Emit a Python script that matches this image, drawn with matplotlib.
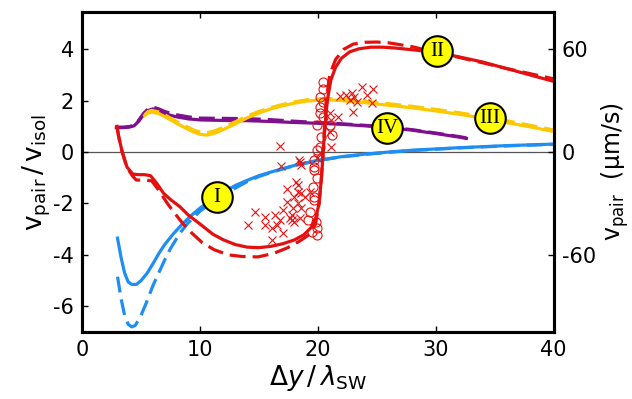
import numpy as np
import matplotlib
matplotlib.use("Agg")
import matplotlib.pyplot as plt

plt.rcParams['font.family'] = ['DejaVu Sans']
plt.rcParams['mathtext.fontset'] = 'dejavusans'
plt.rcParams['axes.unicode_minus'] = False

# scaled pair velocity vs separation, solid = model A, dashed = model B
red_x = [2.95, 3.1, 3.4, 3.8, 4.3, 4.8, 5.3, 5.8, 6.3, 6.9, 7.5, 8.3, 9.0, 10.0, 11.1, 12.0, 13.0, 14.0,
         15.0, 16.0, 17.0, 18.0, 18.8, 19.4, 19.8, 20.1, 20.3, 20.45, 20.6, 20.8, 21.1, 21.5, 22.0, 22.7,
         23.5, 24.5, 25.5, 26.5, 28.0, 30.0, 32.0, 34.0, 36.0, 38.0, 40.0]
red_y = [1.0, 0.6, 0.0, -0.58, -0.86, -0.88, -0.88, -0.92, -1.2, -1.6, -1.85, -2.13, -2.45, -2.8, -3.2,
         -3.42, -3.6, -3.7, -3.72, -3.67, -3.57, -3.42, -3.22, -2.95, -2.6, -2.0, -1.0, 0.0, 1.0, 2.0,
         2.8, 3.3, 3.65, 3.9, 4.02, 4.08, 4.08, 4.05, 3.98, 3.88, 3.7, 3.5, 3.25, 3.0, 2.75]
red_dash_x = [2.95, 3.1, 3.4, 3.8, 4.3, 4.6, 5.3, 5.9, 6.6, 7.2, 7.8, 8.5, 9.3, 10.2, 11.2, 12.4, 13.5,
              14.9, 16.2, 17.4, 18.5, 19.3, 19.8, 20.1, 20.3, 20.5, 20.7, 21.0, 21.5, 22.2, 23.0, 24.0,
              25.0, 26.0, 28.0, 30.0, 32.0, 34.0, 36.0, 38.0, 40.0]
red_dash_y = [1.0, 0.6, 0.0, -0.6, -0.95, -1.09, -1.09, -1.12, -1.55, -1.98, -2.35, -2.76, -3.15, -3.53,
              -3.8, -4.0, -4.06, -4.08, -3.95, -3.73, -3.45, -3.2, -2.8, -2.0, -1.0, 0.5, 2.0, 3.0, 3.6,
              4.0, 4.2, 4.27, 4.28, 4.25, 4.1, 3.87, 3.68, 3.47, 3.25, 3.05, 2.85]

blue_x = [3.0, 3.3, 3.6, 3.9, 4.2, 4.6, 5.0, 5.5, 6.0, 6.5, 7.0, 7.7, 8.5, 9.3, 10.0, 11.0, 12.0, 13.0,
          14.0, 15.0, 16.0, 17.0, 18.0, 19.0, 20.0, 22.0, 24.0, 26.0, 28.0, 30.0, 32.0, 34.0, 36.0, 38.0, 40.0]
blue_y = [-3.35, -4.1, -4.7, -5.05, -5.15, -5.15, -5.0, -4.72, -4.35, -3.95, -3.6, -3.2, -2.8, -2.45,
          -2.18, -1.85, -1.55, -1.3, -1.1, -0.92, -0.78, -0.65, -0.52, -0.42, -0.32, -0.18, -0.08, 0.0,
          0.07, 0.12, 0.17, 0.21, 0.25, 0.28, 0.31]
blue_dash_x = [3.0, 3.3, 3.6, 3.9, 4.2, 4.5, 5.0, 5.5, 6.0, 6.5, 7.0, 7.5, 8.3, 9.0, 10.0, 11.0, 12.0,
               13.0, 14.0, 15.0, 16.0, 17.0, 18.0, 19.0, 20.0, 22.0, 24.0, 26.0, 28.0, 30.0, 32.0, 34.0,
               36.0, 38.0, 40.0]
blue_dash_y = [-4.85, -5.7, -6.35, -6.7, -6.8, -6.75, -6.35, -5.8, -5.2, -4.7, -4.2, -3.75, -3.15, -2.75,
               -2.3, -1.95, -1.65, -1.4, -1.15, -0.95, -0.8, -0.66, -0.53, -0.43, -0.33, -0.19, -0.09,
               -0.01, 0.06, 0.11, 0.16, 0.2, 0.24, 0.27, 0.3]

yellow_x = [5.3, 5.6, 5.9, 6.5, 7.0, 7.5, 8.0, 8.5, 9.0, 9.5, 10.0, 10.5, 11.0, 11.5, 12.0, 13.0, 14.0,
            15.0, 16.0, 17.0, 18.0, 19.0, 20.0, 21.0, 22.0, 24.0, 26.0, 28.0, 30.0, 32.0, 34.0, 36.0, 38.0, 40.0]
yellow_y = [1.42, 1.52, 1.55, 1.5, 1.38, 1.25, 1.12, 1.0, 0.88, 0.77, 0.69, 0.66, 0.7, 0.78, 0.88, 1.1,
            1.33, 1.52, 1.68, 1.8, 1.9, 1.98, 2.02, 2.03, 2.0, 1.92, 1.82, 1.72, 1.6, 1.47, 1.32, 1.15, 0.98, 0.8]
yellow_dash_y = [1.45, 1.58, 1.62, 1.56, 1.45, 1.32, 1.19, 1.07, 0.96, 0.85, 0.78, 0.75, 0.79, 0.87, 0.97,
                 1.18, 1.4, 1.58, 1.73, 1.85, 1.95, 2.03, 2.07, 2.08, 2.05, 1.98, 1.88, 1.78, 1.66, 1.53,
                 1.38, 1.22, 1.04, 0.86]

purple_x = [2.9, 3.5, 4.0, 4.4, 4.8, 5.2, 5.6, 6.0, 6.5, 7.0, 7.5, 8.0, 9.0, 10.0, 12.0, 14.0, 16.0,
            18.0, 20.0, 22.0, 24.0, 26.0, 28.0, 30.0, 32.0, 32.6]
purple_y = [0.95, 0.95, 0.97, 1.02, 1.2, 1.45, 1.62, 1.68, 1.6, 1.5, 1.43, 1.37, 1.29, 1.25, 1.23, 1.22,
            1.19, 1.15, 1.12, 1.08, 1.02, 0.95, 0.85, 0.72, 0.58, 0.53]
purple_dash_y = [0.97, 0.97, 0.99, 1.05, 1.24, 1.5, 1.68, 1.75, 1.68, 1.58, 1.51, 1.45, 1.37, 1.32, 1.31,
                 1.3, 1.26, 1.2, 1.15, 1.1, 1.04, 0.97, 0.87, 0.74, 0.6, 0.55]

# experimental points
cross_x = [16.8, 16.9, 18.4, 18.6, 21.9, 22.4, 22.9, 23.1, 23.7, 24.2, 24.7, 23.3, 24.6, 23.0, 22.7,
           21.0, 21.7, 21.1, 21.0, 21.1, 20.2, 19.9, 18.5, 18.1, 18.3, 17.4, 18.3, 18.6, 18.9, 19.3,
           18.0, 17.4, 18.3, 17.9, 18.6, 17.0, 16.4, 17.8, 17.6, 17.8, 16.8, 14.7, 15.5, 14.1, 15.5,
           16.1, 16.5, 16.1, 17.0, 18.0, 18.5]
cross_y = [0.23, -0.54, -0.31, -0.5, 2.17, 2.21, 2.29, 2.14, 2.52, 2.21, 2.45, 1.94, 1.9, 1.55, 2.02,
           1.51, 1.36, 1.24, 0.78, 0.19, -0.04, -0.23, -0.39, -1.16, -1.28, -1.44, -1.55, -1.6, -1.75,
           -1.55, -1.75, -1.94, -1.98, -2.17, -2.17, -2.25, -2.45, -2.45, -2.56, -2.64, -2.64, -2.33,
           -2.52, -2.84, -2.84, -2.95, -2.84, -3.42, -3.15, -2.72, -2.56]
circle_x = [20.4, 20.4, 20.2, 20.4, 20.2, 20.2, 20.4, 19.9, 21.0, 21.2, 20.3, 20.2, 19.9, 19.7, 19.7,
            19.7, 19.9, 19.6, 19.7, 19.7, 19.3, 19.2, 19.8, 19.9, 19.9, 19.5]
circle_y = [2.72, 2.45, 2.14, 1.94, 1.75, 1.5, 1.36, 1.05, 1.05, 0.66, 0.58, 0.19, 0.08, -0.31, -0.58,
            -0.7, -1.0, -1.36, -1.75, -1.86, -2.33, -2.64, -2.72, -2.95, -3.22, -3.1]

labels = ['I', 'II', 'III', 'IV']
label_x = [11.4, 30.1, 34.6, 25.9]
label_y = [-1.75, 3.92, 1.32, 0.93]

RED, BLUE, YELLOW, PURPLE = '#e41010', '#1f8ef1', '#fcc800', '#7f0f8f'

fig = plt.figure(figsize=(6.32, 3.99), dpi=100)
ax = fig.add_axes([0.130, 0.168, 0.746, 0.802])

ax.axhline(0, color='#555555', lw=0.9, zorder=1)

dash = (0, (5, 2.2))
lw = 2.3
ax.plot(purple_x, purple_dash_y, color=PURPLE, lw=lw, ls=dash, zorder=2)
ax.plot(purple_x, purple_y, color=PURPLE, lw=lw, zorder=2)
ax.plot(yellow_x, yellow_dash_y, color=YELLOW, lw=lw, ls=dash, zorder=3)
ax.plot(yellow_x, yellow_y, color=YELLOW, lw=lw, zorder=3)
ax.plot(blue_dash_x, blue_dash_y, color=BLUE, lw=lw, ls=dash, zorder=3)
ax.plot(blue_x, blue_y, color=BLUE, lw=lw, zorder=3)

ax.plot(cross_x, cross_y, 'x', color=RED, ms=5.5, mew=0.8, zorder=4)
ax.plot(circle_x, circle_y, 'o', mfc='none', mec=RED, ms=6.5, mew=0.8, zorder=4)

ax.plot(red_dash_x, red_dash_y, color=RED, lw=lw, ls=dash, zorder=5)
ax.plot(red_x, red_y, color=RED, lw=lw, zorder=5)

for t, lx, ly in zip(labels, label_x, label_y):
    ax.plot(lx, ly, 'o', ms=22, mfc='#ffff00', mec='black', mew=1.5, zorder=6)
    ax.text(lx, ly, t, ha='center', va='center', fontsize=15,
            family='Liberation Serif', zorder=7)

ax.set_xlim(0, 40)
ax.set_ylim(-7, 5.45)
ax.set_xticks([0, 10, 20, 30, 40])
ax.set_yticks([-6, -4, -2, 0, 2, 4])
ax.tick_params(direction='in', length=4, width=1, labelsize=15, top=True, pad=6)
for s in ax.spines.values():
    s.set_linewidth(2.2)
ax.set_xlabel(r'$\Delta y\,/\,\lambda_{\mathsf{SW}}$', fontsize=19, labelpad=2)
ax.set_ylabel(r'$\mathsf{v}_{\mathsf{pair}}\,/\,\mathsf{v}_{\mathsf{isol}}$', fontsize=19, labelpad=0)

ax2 = ax.twinx()
ax2.set_ylim(-7 * 15, 5.45 * 15)
ax2.set_yticks([-60, 0, 60])
ax2.tick_params(direction='in', length=4, width=1, labelsize=15, pad=6)
ax2.set_ylabel(r'$\mathsf{v}_{\mathsf{pair}}$  $(\mathsf{\mu m/s})$', fontsize=17, labelpad=2)
for s in ax2.spines.values():
    s.set_linewidth(2.2)

fig.savefig('out.png', dpi=100)
